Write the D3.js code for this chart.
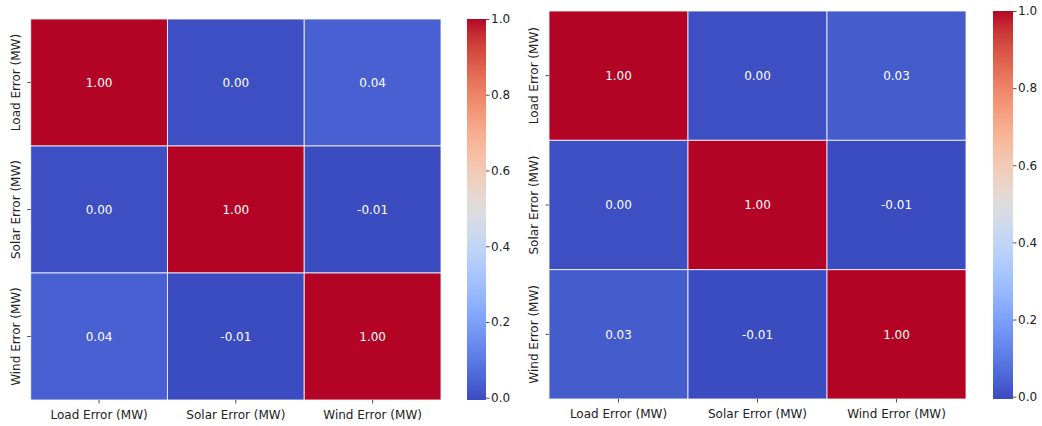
<!DOCTYPE html>
<html>
<head>
<meta charset="utf-8">
<script src="https://cdn.jsdelivr.net/npm/d3@7"></script>
<style>
  body { margin: 0; background: #fff; }
  svg { display: block; font-family: "DejaVu Sans", sans-serif; }
</style>
</head>
<body>
<svg width="1042" height="426"></svg>
<script>
// labels and values
const labels = ["Load Error (MW)", "Solar Error (MW)", "Wind Error (MW)"];
const leftValues = [
  [1.00, 0.00, 0.04],
  [0.00, 1.00, -0.006],
  [0.04, -0.006, 1.00]
];
const rightValues = [
  [1.00, 0.00, 0.03],
  [0.00, 1.00, -0.006],
  [0.03, -0.006, 1.00]
];
const cbarTicks = [0.0, 0.2, 0.4, 0.6, 0.8, 1.0];

// matplotlib "coolwarm" control colours
const coolwarmStops = [
  "#3b4cc0", "#445acc", "#4d68d7", "#5775e1", "#6282ea", "#6c8ef1", "#779af7", "#82a5fb",
  "#8db0fe", "#98b9ff", "#a3c2ff", "#aec9fd", "#b8d0f9", "#c2d5f4", "#ccd9ee", "#d5dbe6",
  "#dddddd", "#e5d8d1", "#ecd3c5", "#f1ccb9", "#f5c4ad", "#f7bba0", "#f7b194", "#f7a687",
  "#f49a7b", "#f18d6f", "#ec7f63", "#e57058", "#de604d", "#d55042", "#cb3e38", "#c0282f",
  "#b40426"
];
const coolwarm = d3.interpolateRgbBasis(coolwarmStops);

const fontSize = 12;
const textColor = "#222";

const svg = d3.select("svg");
const defs = svg.append("defs");

function drawHeatmap(id, values, box, cbar) {
  const allVals = values.flat();
  const vmin = d3.min(allVals), vmax = d3.max(allVals);
  const color = v => coolwarm((v - vmin) / (vmax - vmin));

  const x = d3.scaleBand().domain(d3.range(labels.length)).range([box.x0, box.x1]);
  const y = d3.scaleBand().domain(d3.range(labels.length)).range([box.y0, box.y1]);

  const g = svg.append("g");

  const cells = [];
  values.forEach((row, i) => row.forEach((v, j) => cells.push({ i, j, v })));

  g.selectAll("rect.cell")
    .data(cells)
    .join("rect")
    .attr("class", "cell")
    .attr("x", d => x(d.j))
    .attr("y", d => y(d.i))
    .attr("width", x.bandwidth())
    .attr("height", y.bandwidth())
    .attr("fill", d => color(d.v))
    .attr("stroke", "#fff")
    .attr("stroke-opacity", 0.8)
    .attr("stroke-width", 1);

  g.selectAll("text.annot")
    .data(cells)
    .join("text")
    .attr("class", "annot")
    .attr("x", d => x(d.j) + x.bandwidth() / 2)
    .attr("y", d => y(d.i) + y.bandwidth() / 2)
    .attr("dy", "0.35em")
    .attr("text-anchor", "middle")
    .attr("fill", "#fff")
    .attr("font-size", fontSize)
    .text(d => d.v.toFixed(2));

  // x axis
  const xAxis = g.append("g")
    .attr("transform", `translate(0,${box.y1})`)
    .call(d3.axisBottom(x).tickSize(3.5).tickPadding(6.5).tickFormat(i => labels[i]));
  // y axis, labels turned upright
  const yAxis = g.append("g")
    .attr("transform", `translate(${box.x0},0)`)
    .call(d3.axisLeft(y).tickSize(3.5).tickFormat(i => labels[i]));
  yAxis.selectAll(".tick").attr("transform", null);
  yAxis.selectAll(".tick line").attr("transform", d => `translate(0,${y(d) + y.bandwidth() / 2})`);
  yAxis.selectAll(".tick text")
    .attr("transform", d => `translate(-11,${y(d) + y.bandwidth() / 2}) rotate(-90)`)
    .attr("x", 0).attr("y", 0).attr("dy", 0)
    .attr("text-anchor", "middle");
  [xAxis, yAxis].forEach(a => {
    a.select(".domain").remove();
    a.selectAll("line").attr("stroke", textColor).attr("stroke-width", 0.8);
    a.selectAll("text").attr("fill", textColor).attr("font-size", fontSize)
      .attr("font-family", "DejaVu Sans, sans-serif");
  });

  // colour bar
  const grad = defs.append("linearGradient")
    .attr("id", id)
    .attr("x1", 0).attr("y1", 1).attr("x2", 0).attr("y2", 0);
  d3.range(0, 1.0001, 0.02).forEach(t => {
    grad.append("stop").attr("offset", t).attr("stop-color", coolwarm(t));
  });
  g.append("rect")
    .attr("x", cbar.x0)
    .attr("y", box.y0)
    .attr("width", cbar.x1 - cbar.x0)
    .attr("height", box.y1 - box.y0)
    .attr("fill", `url(#${id})`);

  const cy = d3.scaleLinear().domain([vmin, vmax]).range([box.y1, box.y0]);
  const cAxis = g.append("g")
    .attr("transform", `translate(${cbar.x1},0)`)
    .call(d3.axisRight(cy).tickValues(cbarTicks).tickSize(3.5).tickPadding(1.5).tickFormat(d3.format(".1f")));
  cAxis.select(".domain").remove();
  cAxis.selectAll("line").attr("stroke", textColor).attr("stroke-width", 0.8);
  cAxis.selectAll("text").attr("fill", textColor).attr("font-size", fontSize)
    .attr("font-family", "DejaVu Sans, sans-serif");
}

drawHeatmap("cbLeft", leftValues,
  { x0: 30.7, x1: 441, y0: 19, y1: 400 },
  { x0: 467, x1: 486 });
drawHeatmap("cbRight", rightValues,
  { x0: 549, x1: 966, y0: 11, y1: 399 },
  { x0: 993, x1: 1013 });
</script>
</body>
</html>
